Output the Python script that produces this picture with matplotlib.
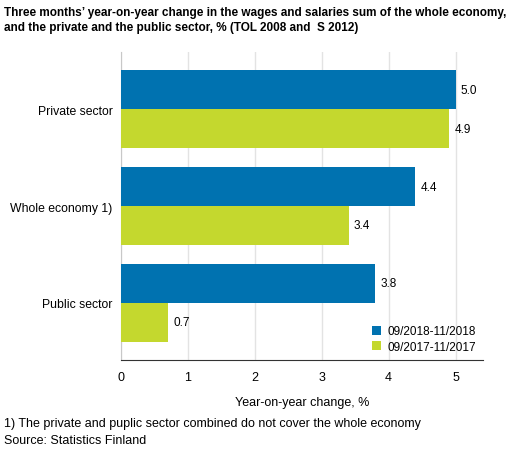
import numpy as np
import matplotlib.pyplot as plt

plt.rcParams['font.family'] = ['Liberation Sans', 'DejaVu Sans']

# Data
categories = ["Private sector", "Whole economy 1)", "Public sector"]
period_2018 = [5.0, 4.4, 3.8]
period_2017 = [4.9, 3.4, 0.7]
series_labels = ["09/2018-11/2018", "09/2017-11/2017"]
colors = ["#0072b0", "#c4d82e"]

fig = plt.figure(figsize=(5.14, 4.52), dpi=100)
ax = fig.add_axes([0.2354, 0.2013, 0.7043, 0.6814])

y = np.arange(len(categories))
h = 0.4
bars1 = ax.barh(y - h / 2, period_2018, height=h, color=colors[0], label=series_labels[0], zorder=3)
bars2 = ax.barh(y + h / 2, period_2017, height=h, color=colors[1], label=series_labels[1], zorder=3)

for bars, vals in [(bars1, period_2018), (bars2, period_2017)]:
    for b, v in zip(bars, vals):
        ax.text(v + 0.08, b.get_y() + b.get_height() / 2, f"{v:.1f}",
                va="center", ha="left", fontsize=8.5)

ax.set_yticks(y)
ax.set_yticklabels(categories, fontsize=8.8)
ax.set_ylim(2.59, -0.59)
ax.set_xlim(0, 5.41)
ax.set_xticks(range(6))
ax.tick_params(axis="x", labelsize=9, length=0, pad=8)
ax.tick_params(axis="y", length=0, pad=6)
ax.grid(axis="x", color="#e3e3e3", linewidth=1, zorder=0)
for s in ["top", "right"]:
    ax.spines[s].set_visible(False)
ax.spines["left"].set_color("#c8c8c8")
ax.spines["bottom"].set_color("#333333")
ax.set_xlabel("Year-on-year change, %", fontsize=9, labelpad=9)

leg = ax.legend(loc="lower right", frameon=False, fontsize=8.5, handlelength=0.8,
                handleheight=0.8, handletextpad=0.5, labelspacing=0.3,
                borderaxespad=0.2)

fig.text(0.008, 0.985, "Three months\u2019 year-on-year change in the wages and salaries sum of the whole economy,\nand the private and the public sector, % (TOL 2008 and  S 2012)",
         fontsize=8.5, fontweight="bold", va="top", ha="left", linespacing=1.35)
fig.text(0.008, 0.062, "1) The private and puplic sector combined do not cover the whole economy",
         fontsize=9.0, va="center", ha="left")
fig.text(0.008, 0.025, "Source: Statistics Finland", fontsize=9.0, va="center", ha="left")

fig.savefig("out.png", dpi=100)
